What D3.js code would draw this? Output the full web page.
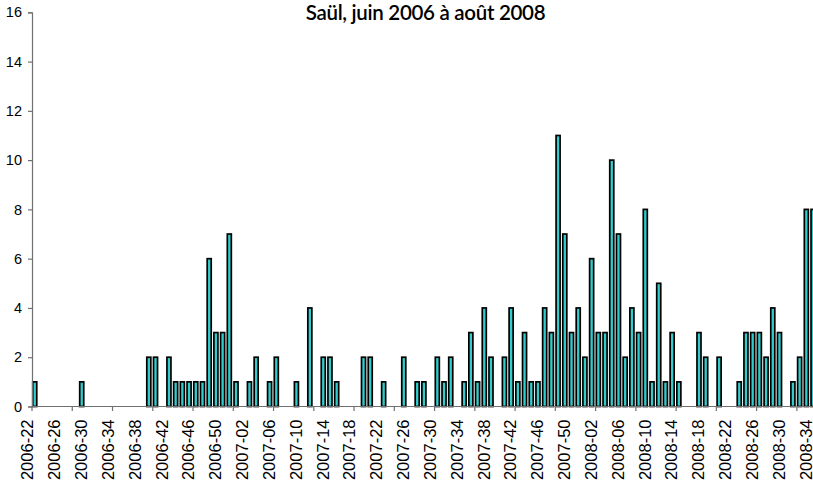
<!DOCTYPE html>
<html>
<head>
<meta charset="utf-8">
<script src="https://cdn.jsdelivr.net/npm/d3@7"></script>
<style>
  html, body { margin: 0; padding: 0; background: #fff; }
  svg { display: block; }
</style>
</head>
<body>
<div id="chart"></div>
<script>
// Weekly counts for Saül, ISO weeks 2006-22 through 2008-34
const title = "Saül, juin 2006 à août 2008";

const weeks2006 = ["2006-22","2006-23","2006-24","2006-25","2006-26","2006-27","2006-28","2006-29","2006-30","2006-31",
  "2006-32","2006-33","2006-34","2006-35","2006-36","2006-37","2006-38","2006-39","2006-40","2006-41",
  "2006-42","2006-43","2006-44","2006-45","2006-46","2006-47","2006-48","2006-49","2006-50","2006-51","2006-52"];
const weeks2007 = ["2007-01","2007-02","2007-03","2007-04","2007-05","2007-06","2007-07","2007-08","2007-09","2007-10",
  "2007-11","2007-12","2007-13","2007-14","2007-15","2007-16","2007-17","2007-18","2007-19","2007-20",
  "2007-21","2007-22","2007-23","2007-24","2007-25","2007-26","2007-27","2007-28","2007-29","2007-30",
  "2007-31","2007-32","2007-33","2007-34","2007-35","2007-36","2007-37","2007-38","2007-39","2007-40",
  "2007-41","2007-42","2007-43","2007-44","2007-45","2007-46","2007-47","2007-48","2007-49","2007-50",
  "2007-51","2007-52"];
const weeks2008 = ["2008-01","2008-02","2008-03","2008-04","2008-05","2008-06","2008-07","2008-08","2008-09","2008-10",
  "2008-11","2008-12","2008-13","2008-14","2008-15","2008-16","2008-17","2008-18","2008-19","2008-20",
  "2008-21","2008-22","2008-23","2008-24","2008-25","2008-26","2008-27","2008-28","2008-29","2008-30",
  "2008-31","2008-32","2008-33","2008-34"];
const categories = weeks2006.concat(weeks2007, weeks2008);

const counts2006 = [1,0,0,0,0,0,0,1,0,0, 0,0,0,0,0,0,0,2,2,0, 2,1,1,1,1,1,6,3,3,7, 1];
const counts2007 = [0,1,2,0,1,2,0,0,1,0, 4,0,2,2,1,0,0,0,2,2, 0,1,0,0,2,0,1,1,0,2,
  1,2,0,1,3,1,4,2,0,2, 4,1,3,1,1,4,3,11,7,3, 4,2];
const counts2008 = [6,3,3,10,7,2,4,3,8,1, 5,1,3,1,0,0,3,2,0,2, 0,0,1,3,3,3,2,4,3,0, 1,2,8,8];
const counts = counts2006.concat(counts2007, counts2008);

const yTicks = [0, 2, 4, 6, 8, 10, 12, 14, 16];

const W = 813, H = 488;
const plotLeft = 32, plotBottom = 406.5, plotTop = 12.3;

const svg = d3.select("#chart").append("svg")
  .attr("width", W).attr("height", H)
  .attr("viewBox", `0 0 ${W} ${H}`);

const x = d3.scaleBand()
  .domain(categories)
  .range([plotLeft, plotLeft + 6.71 * 116.81])
  .paddingInner(0.4)
  .paddingOuter(0.11);

const y = d3.scaleLinear().domain([0, 16]).range([plotBottom, plotTop]);

// bars
svg.append("g")
  .selectAll("rect")
  .data(categories.map((c, i) => ({ week: c, value: counts[i] })).filter(d => d.value > 0))
  .join("rect")
  .attr("x", d => x(d.week))
  .attr("y", d => y(d.value))
  .attr("width", x.bandwidth())
  .attr("height", d => y(0) - y(d.value))
  .attr("fill", "#33cccc")
  .attr("stroke", "#000")
  .attr("stroke-width", 1.7);

// value axis
const yAxis = svg.append("g")
  .attr("transform", `translate(${plotLeft},0)`)
  .call(d3.axisLeft(y).tickValues(yTicks).tickSize(4).tickPadding(6));
yAxis.select(".domain").attr("stroke", "#707070").attr("stroke-width", 1.2);
yAxis.selectAll(".tick line").attr("stroke", "#707070").attr("stroke-width", 1.2);
yAxis.selectAll(".tick text")
  .attr("font-family", "'Liberation Sans', Arial, sans-serif")
  .attr("font-size", 14.5)
  .attr("fill", "#000");

// category axis: baseline, tick marks every 6 weeks, labels every 4 weeks
const xg = svg.append("g");
xg.append("line")
  .attr("x1", plotLeft).attr("x2", W)
  .attr("y1", plotBottom).attr("y2", plotBottom)
  .attr("stroke", "#707070").attr("stroke-width", 1.2);

const tickWeeks = categories.filter((c, i) => i % 6 === 0);
xg.selectAll("line.tick")
  .data(tickWeeks)
  .join("line")
  .attr("class", "tick")
  .attr("x1", d => x(d) - x.step() * x.paddingOuter())
  .attr("x2", d => x(d) - x.step() * x.paddingOuter())
  .attr("y1", plotBottom).attr("y2", plotBottom + 4.5)
  .attr("stroke", "#707070").attr("stroke-width", 1.2);

const labelWeeks = categories.filter((c, i) => i % 4 === 0);
xg.selectAll("text.lab")
  .data(labelWeeks)
  .join("text")
  .attr("class", "lab")
  .attr("transform", d => `translate(${x(d) - 0.77 * x.step()},${plotBottom + 13}) rotate(-90)`)
  .attr("dy", "0.35em")
  .attr("text-anchor", "end")
  .attr("font-family", "'Liberation Sans', Arial, sans-serif")
  .attr("font-size", 16.5)
  .attr("fill", "#000")
  .text(d => d);

// title
svg.append("text")
  .attr("x", 425.5)
  .attr("y", 20)
  .attr("text-anchor", "middle")
  .attr("font-family", "Lato, 'Open Sans', sans-serif")
  .attr("font-size", 20.5)
  .attr("font-weight", 600)
  .attr("letter-spacing", -0.3)
  .attr("fill", "#000")
  .text(title);
</script>
</body>
</html>
